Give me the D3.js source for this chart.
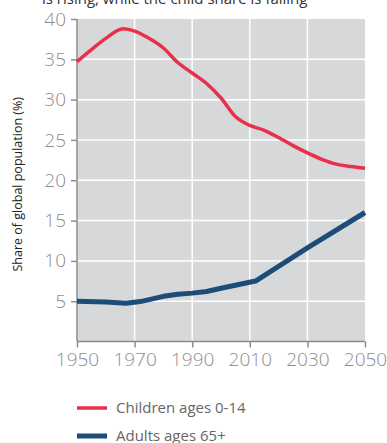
<!DOCTYPE html>
<html>
<head>
<meta charset="utf-8">
<script src="https://cdn.jsdelivr.net/npm/d3@7"></script>
<style>
  html, body { margin: 0; padding: 0; background: #fff; }
  svg { display: block; font-family: "Open Sans", "Noto Sans", sans-serif; }
</style>
</head>
<body>
<svg id="chart" width="387" height="443"></svg>
<script>
// Share of global population by age group, 1950–2050
const childYears  = [1950, 1955, 1960, 1966, 1970, 1975, 1980, 1985, 1990, 1995, 2000, 2005, 2010, 2015, 2020, 2025, 2030, 2035, 2040, 2045, 2050];
const childShare  = [34.7, 36.2, 37.6, 38.8, 38.5, 37.6, 36.4, 34.6, 33.3, 32.0, 30.2, 27.9, 26.8, 26.2, 25.3, 24.3, 23.4, 22.6, 22.0, 21.7, 21.5];
const adultYears  = [1950, 1960, 1967, 1972, 1980, 1985, 1990, 1995, 2000, 2012, 2030, 2050];
const adultShare  = [5.0, 4.9, 4.75, 4.95, 5.6, 5.85, 6.0, 6.2, 6.6, 7.5, 11.6, 16.0];
const xTicks      = [1950, 1970, 1990, 2010, 2030, 2050];
const yTicks      = [5, 10, 15, 20, 25, 30, 35, 40];
const seriesNames = ["Children ages 0-14", "Adults ages 65+"];
const seriesColors = ["#e8304a", "#1c4d78"];

const svg = d3.select("#chart");
const plotLeft = 77, plotRight = 365, plotTop = 19, plotBottom = 341.5;

const x = d3.scaleLinear().domain([1950, 2050]).range([plotLeft, plotRight]);
const y = d3.scaleLinear().domain([0, 40]).range([plotBottom, plotTop]);

// Title fragment (continues from the line above)
svg.append("text")
  .attr("x", 42).attr("y", 4)
  .attr("font-size", 15).attr("fill", "#333")
  .text("is rising, while the child share is falling");

// Plot background
svg.append("rect")
  .attr("x", plotLeft).attr("y", plotTop)
  .attr("width", plotRight - plotLeft).attr("height", plotBottom - plotTop)
  .attr("fill", "#d7d8da");

// Grid lines
const grid = svg.append("g").attr("stroke", "#fff").attr("stroke-width", 1.5);
grid.selectAll(".gx").data(xTicks.filter(t => t > 1950 && t < 2050)).join("line")
  .attr("x1", d => x(d)).attr("x2", d => x(d))
  .attr("y1", plotTop).attr("y2", plotBottom);
grid.selectAll(".gy").data(yTicks.filter(t => t < 40)).join("line")
  .attr("x1", plotLeft).attr("x2", plotRight)
  .attr("y1", d => y(d)).attr("y2", d => y(d));

// Axes
const yAxis = svg.append("g")
  .attr("transform", `translate(${plotLeft},0)`)
  .call(d3.axisLeft(y).tickValues(yTicks).tickSize(6).tickPadding(5));
const xAxis = svg.append("g")
  .attr("transform", `translate(0,${plotBottom})`)
  .call(d3.axisBottom(x).tickValues(xTicks).tickFormat(d3.format("d")).tickSize(6).tickPadding(5));

[yAxis, xAxis].forEach(g => {
  g.select(".domain").attr("stroke", "#8c8c8c").attr("stroke-width", 1.5);
  g.selectAll(".tick line").attr("stroke", "#8c8c8c").attr("stroke-width", 1.5);
  g.selectAll(".tick text")
    .attr("fill", "#8f8f8f")
    .attr("font-size", 19)
    .attr("font-weight", 300)
    .attr("font-family", "'Open Sans Light', 'Open Sans', 'Noto Sans', sans-serif");
});
yAxis.select(".domain").attr("d", `M0,${plotTop}V${plotBottom}`);
xAxis.select(".domain").attr("d", `M${plotLeft},0H${plotRight}`);

// Y axis title
svg.append("text")
  .attr("transform", `translate(22,${(plotTop + plotBottom) / 2 + 4}) rotate(-90)`)
  .attr("text-anchor", "middle")
  .attr("font-size", 12.5).attr("fill", "#222")
  .text("Share of global population (%)");

// Lines
const childLine = d3.line()
  .x((d, i) => x(childYears[i])).y(d => y(d))
  .curve(d3.curveMonotoneX);
const adultLine = d3.line()
  .x((d, i) => x(adultYears[i])).y(d => y(d))
  .curve(d3.curveLinear);

svg.append("path").datum(childShare)
  .attr("d", childLine).attr("fill", "none")
  .attr("stroke", seriesColors[0]).attr("stroke-width", 3.5)
  .attr("stroke-linejoin", "round");
svg.append("path").datum(adultShare)
  .attr("d", adultLine).attr("fill", "none")
  .attr("stroke", seriesColors[1]).attr("stroke-width", 5)
  .attr("stroke-linejoin", "round");

// Legend
const legend = svg.append("g");
const legendY = [408, 436];
const legendWidth = [3.5, 5];
seriesNames.forEach((name, i) => {
  legend.append("line")
    .attr("x1", 77).attr("x2", 107)
    .attr("y1", legendY[i]).attr("y2", legendY[i])
    .attr("stroke", seriesColors[i]).attr("stroke-width", legendWidth[i]);
  legend.append("text")
    .attr("x", 116).attr("y", legendY[i] + 5)
    .attr("font-size", 15).attr("fill", "#666")
    .text(name);
});
</script>
</body>
</html>
